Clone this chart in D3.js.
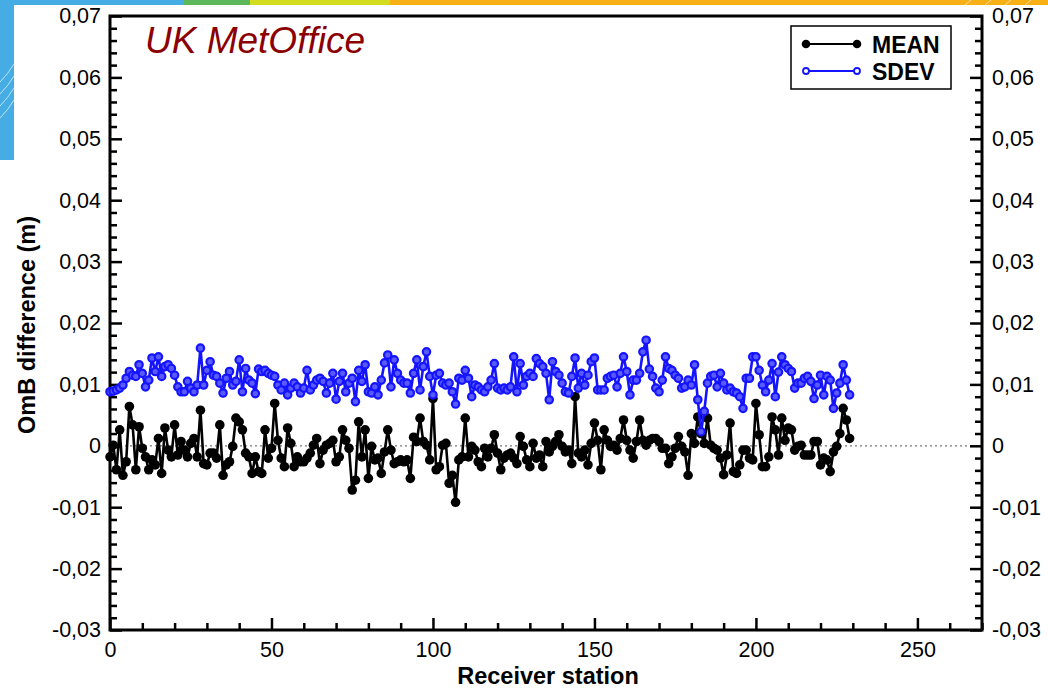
<!DOCTYPE html>
<html><head><meta charset="utf-8">
<script src="https://cdn.jsdelivr.net/npm/d3@7"></script>
<style>html,body{margin:0;padding:0;background:#fff;} svg{display:block;font-family:"Liberation Sans",Arial,Helvetica,sans-serif;}</style>
</head><body><svg id="c" width="1048" height="690"></svg>
<script>
// values in millimetres (axis labels show metres)
const meanMm = [
-1.8,0.1,-3.9,2.6,-4.8,-2.6,6.4,3.4,-3.9,3.1,
-0.4,-1.8,-3.9,-2.3,-3.1,1.2,-4.5,2.9,-0.7,-1.8,
3.4,-1.5,0.7,-0.7,-1.8,0.4,1.2,-1.8,5.8,-2.9,
-3.1,-1.2,-1.2,-2.0,3.4,-4.8,-3.1,-2.6,-0.1,4.5,
3.9,2.6,-1.2,-1.8,-4.5,-1.8,-4.2,-4.5,2.6,-2.0,
-0.4,6.9,0.9,-2.0,-3.4,2.9,0.4,-3.4,-1.8,-2.6,
-2.6,-2.0,-1.2,0.1,1.2,-2.9,-0.7,0.1,0.4,0.9,
-2.6,-1.8,2.6,0.9,-0.4,-7.2,-5.6,3.9,-1.8,2.6,
-5.3,-0.1,-2.3,-2.0,-4.5,-1.0,2.6,-0.7,-2.9,-2.6,
-2.3,-2.6,-2.3,-5.3,1.4,0.7,4.5,0.7,0.1,-2.3,
7.7,-3.9,-3.4,0.1,0.4,-6.1,-4.8,-9.2,-2.3,-1.8,
4.5,-1.8,-0.1,-0.7,-2.6,-3.4,-0.4,-1.8,-0.4,1.8,
-1.2,-3.9,-2.0,-1.5,-1.2,-2.0,-2.9,1.5,-0.1,-2.3,
-3.4,0.4,-2.0,-1.5,-3.4,0.7,-1.0,-0.1,0.7,1.8,
-0.1,-1.0,-0.7,-2.9,8.0,-1.2,-1.8,-0.7,-3.1,0.4,
3.7,0.9,-3.9,2.6,0.9,-0.1,0.1,-0.7,1.2,4.2,
0.9,-0.7,-2.0,0.7,4.2,0.9,0.1,0.9,1.2,1.2,
0.7,-0.4,-0.4,-2.9,-1.8,-0.4,1.5,-0.1,-1.0,-4.8,
2.0,0.4,4.7,2.0,0.4,4.5,0.1,-0.4,-0.7,-2.0,
-4.7,-1.5,3.7,-4.2,-4.5,-3.1,-0.7,-0.7,-2.0,-2.3,
6.9,1.8,-3.4,-3.4,-1.8,4.7,2.6,-1.5,4.5,0.9,
2.9,2.6,-0.7,-0.1,0.1,-1.5,-1.5,-1.5,0.7,0.7,
-3.1,-2.0,-2.3,-4.2,-1.0,-0.1,2.0,6.1,4.2,1.2
];
const sdevMm = [
8.8,8.9,9.1,9.4,9.9,11.0,12.1,11.5,11.3,13.2,
11.8,9.6,10.7,14.3,12.1,14.5,11.3,12.9,13.2,12.6,
11.5,9.6,8.8,8.8,10.5,9.4,8.8,9.9,15.9,9.9,
12.3,13.7,11.5,11.3,10.2,8.6,11.0,12.1,9.9,10.5,
14.0,8.8,12.6,10.7,10.2,8.5,12.5,12.1,12.3,11.8,
11.5,11.3,9.9,9.1,10.2,8.3,9.4,10.2,9.6,8.6,
9.4,12.3,9.1,9.9,10.7,11.0,10.5,8.6,10.2,11.8,
7.6,10.5,11.8,8.8,10.2,11.0,7.2,12.3,10.5,13.2,
8.8,8.6,9.6,8.3,10.7,13.5,14.8,9.6,14.0,11.8,
10.7,10.2,10.2,8.6,11.8,14.0,9.1,12.9,15.3,11.3,
8.3,11.5,11.8,10.2,9.9,10.2,8.8,6.8,11.0,10.7,
12.3,11.0,8.0,9.9,9.6,9.1,8.8,9.6,10.7,13.4,
9.4,9.1,9.4,9.1,9.6,14.5,8.8,13.4,9.9,11.3,
11.8,11.3,14.2,13.4,12.9,11.8,7.5,13.7,12.1,11.5,
10.2,8.8,8.6,11.3,14.3,9.4,11.8,9.9,11.5,13.7,
14.3,9.1,9.1,9.1,11.0,11.3,11.5,9.6,11.8,14.5,
12.1,8.3,10.7,10.7,11.8,15.3,17.2,12.5,11.3,9.4,
8.8,10.7,14.5,12.6,12.3,11.5,11.0,9.4,9.6,10.7,
9.9,13.2,7.5,2.3,5.6,10.2,11.3,11.5,9.6,11.8,
10.2,9.1,9.4,8.8,8.6,8.0,6.1,11.0,11.0,14.5,
14.5,12.3,9.9,8.8,10.7,13.4,8.0,12.0,14.5,13.2,
12.6,12.1,9.4,10.2,10.2,11.0,11.3,10.5,7.7,9.9,
11.5,8.3,11.3,10.7,6.1,8.6,10.2,13.2,10.7,8.3
];
const stations = d3.range(meanMm.length);
const yTickValues = [-30,-20,-10,0,10,20,30,40,50,60,70];
const yTickLabels = ["-0,03","-0,02","-0,01","0","0,01","0,02","0,03","0,04","0,05","0,06","0,07"];
const xTickValues = [0,50,100,150,200,250];
const xTickLabels = ["0","50","100","150","200","250"];
const seriesNames = ["MEAN","SDEV"];

const svg = d3.select("#c");
const L=110, R=982, T=16, B=630;
const x = d3.scaleLinear().domain([0,270]).range([L,R]);
const y = d3.scaleLinear().domain([-30,70]).range([B,T]);

// slide decoration
const deco = svg.append("g");
deco.append("rect").attr("x",0).attr("y",0).attr("width",14).attr("height",160).attr("fill","#46ade4");
deco.append("rect").attr("x",0).attr("y",0).attr("width",183).attr("height",5).attr("fill","#46ade4");
deco.append("rect").attr("x",183).attr("y",0).attr("width",67).attr("height",5).attr("fill","#5db85b");
deco.append("rect").attr("x",250).attr("y",0).attr("width",140).attr("height",5).attr("fill","#d4dc1f");
deco.append("rect").attr("x",390).attr("y",0).attr("width",658).attr("height",5).attr("fill","#f8b017");
[70,82,94,106].forEach(s=>{
  deco.append("path").attr("d",`M0,${s+12} Q8,${s+4} 14,${s-6}`).attr("fill","none").attr("stroke","#fff").attr("stroke-width",0.8).attr("opacity",0.8);
});
[965,985,1005,1025].forEach(s=>{
  deco.append("line").attr("x1",s).attr("y1",5).attr("x2",s+6).attr("y2",0).attr("stroke","#fff").attr("stroke-width",0.8).attr("opacity",0.7);
});

// zero dotted line
svg.append("line").attr("x1",x(0)).attr("x2",x(270)).attr("y1",y(0)).attr("y2",y(0))
  .attr("stroke","#777").attr("stroke-width",1.3).attr("stroke-dasharray","2,3");

// axes
function styleAxis(g){
  g.select(".domain").remove();
  g.selectAll(".tick line").attr("stroke","#000").attr("stroke-width",2.5);
  g.selectAll(".tick text").attr("font-size",21.5).attr("fill","#000").attr("font-family",'"Liberation Sans",Arial,sans-serif');
}
const yMinor = d3.range(-30,71,2).filter(v=>v%10!==0);
const xMinor = d3.range(0,271,10).filter(v=>v%50!==0);
svg.append("g").attr("transform",`translate(${L},0)`)
  .call(d3.axisLeft(y).tickValues(yTickValues).tickSize(-12).tickPadding(9).tickFormat((d,i)=>yTickLabels[i])).call(styleAxis);
svg.append("g").attr("transform",`translate(${L},0)`)
  .call(d3.axisLeft(y).tickValues(yMinor).tickSize(-7).tickFormat("")).call(styleAxis);
svg.append("g").attr("transform",`translate(${R},0)`)
  .call(d3.axisRight(y).tickValues(yTickValues).tickSize(-12).tickPadding(10).tickFormat((d,i)=>yTickLabels[i])).call(styleAxis);
svg.append("g").attr("transform",`translate(${R},0)`)
  .call(d3.axisRight(y).tickValues(yMinor).tickSize(-7).tickFormat("")).call(styleAxis);
svg.append("g").attr("transform",`translate(0,${B})`)
  .call(d3.axisBottom(x).tickValues(xTickValues).tickSize(-12).tickPadding(12).tickFormat((d,i)=>xTickLabels[i])).call(styleAxis);
svg.append("g").attr("transform",`translate(0,${B})`)
  .call(d3.axisBottom(x).tickValues(xMinor).tickSize(-7).tickFormat("")).call(styleAxis);

// frame
svg.append("rect").attr("x",L).attr("y",T).attr("width",R-L).attr("height",B-T)
  .attr("fill","none").attr("stroke","#000").attr("stroke-width",3);

// series
const line = d3.line().x((d,i)=>x(stations[i])).y(d=>y(d));
svg.append("path").datum(meanMm).attr("d",line).attr("fill","none").attr("stroke","#000").attr("stroke-width",2.6);
svg.append("g").selectAll("circle").data(meanMm).join("circle")
  .attr("cx",(d,i)=>x(stations[i])).attr("cy",d=>y(d)).attr("r",4.8).attr("fill","#000");
svg.append("path").datum(sdevMm).attr("d",line).attr("fill","none").attr("stroke","#1414ff").attr("stroke-width",2.6);
svg.append("g").selectAll("circle").data(sdevMm).join("circle")
  .attr("cx",(d,i)=>x(stations[i])).attr("cy",d=>y(d)).attr("r",3.7).attr("fill","#5a5aff").attr("stroke","#1414ff").attr("stroke-width",2.2);

// titles
svg.append("text").attr("x",548).attr("y",684).attr("text-anchor","middle").attr("font-size",23.5).attr("font-weight","bold").text("Receiver station");
svg.append("text").attr("transform","translate(35,325) rotate(-90)").attr("text-anchor","middle").attr("font-size",23.5).attr("font-weight","bold").text("OmB difference (m)");
svg.append("text").attr("x",145).attr("y",53).attr("font-size",37).attr("font-style","italic").attr("fill","#8b0000").text("UK MetOffice");

// legend
const lg = svg.append("g");
lg.append("rect").attr("x",791).attr("y",26).attr("width",160).attr("height",63).attr("fill","#fff").attr("stroke","#000").attr("stroke-width",1.5);
const lgY=[44,71];
const lgColor=["#000","#1414ff"];
seriesNames.forEach((n,k)=>{
  lg.append("line").attr("x1",806).attr("x2",857).attr("y1",lgY[k]).attr("y2",lgY[k]).attr("stroke",lgColor[k]).attr("stroke-width",2);
  [806,857].forEach(cx=>{
    if(k===0) lg.append("circle").attr("cx",cx).attr("cy",lgY[k]).attr("r",4.3).attr("fill","#000");
    else lg.append("circle").attr("cx",cx).attr("cy",lgY[k]).attr("r",3).attr("fill","#fff").attr("stroke","#1414ff").attr("stroke-width",1.8);
  });
  lg.append("text").attr("x",872).attr("y",lgY[k]+8.5).attr("font-size",23).attr("font-weight","bold").text(n);
});
</script></body></html>
